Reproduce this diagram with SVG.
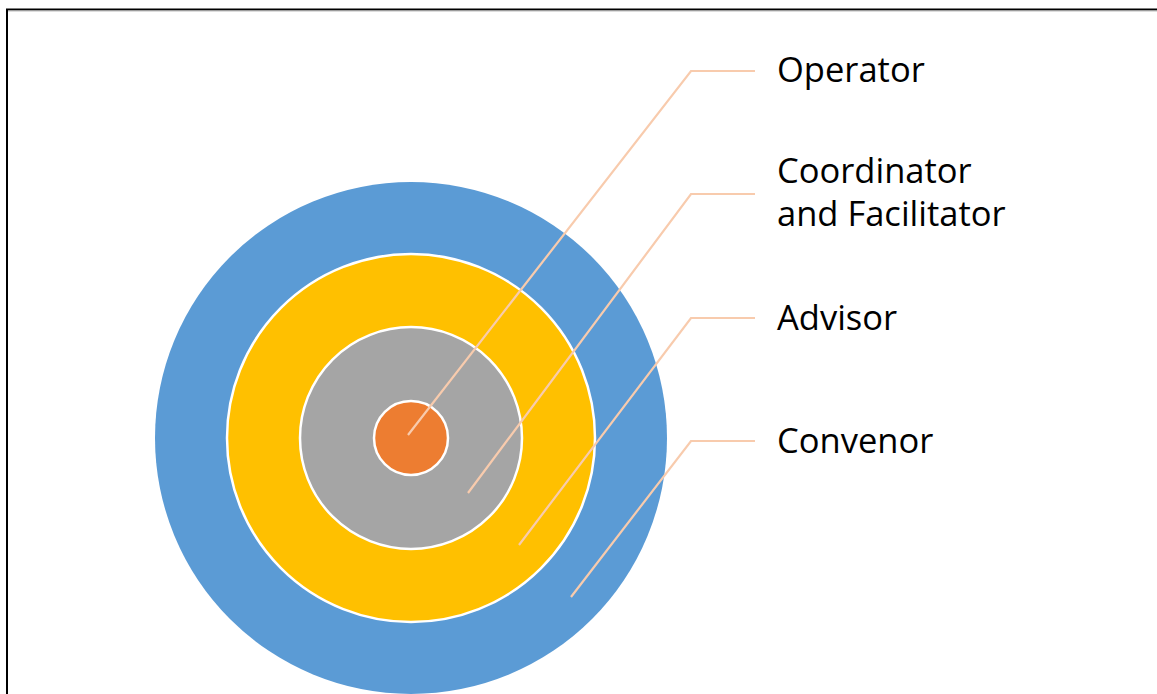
<svg xmlns="http://www.w3.org/2000/svg" width="1157" height="694" viewBox="0 0 1157 694">
  <style>
    .ring { stroke: #FFFFFF; stroke-width: 2.5; }
    .leader { fill: none; stroke: #F8CBAD; stroke-width: 2.2; stroke-linejoin: miter; }
    .label { font-family: "Open Sans", "Noto Sans", "Liberation Sans", sans-serif; font-size: 34.5px; fill: #000000; }
  </style>
  <rect x="0" y="0" width="1157" height="694" fill="#FFFFFF"/>

  <!-- frame -->
  <g id="frame">
    <line x1="6" y1="9.5" x2="1157" y2="9.5" stroke="#000000" stroke-width="2"/>
    <line x1="8" y1="11" x2="1157" y2="11" stroke="#BBBBBB" stroke-width="1"/>
    <line x1="7" y1="9" x2="7" y2="694" stroke="#000000" stroke-width="2"/>
  </g>

  <!-- concentric rings -->
  <g id="convenor-ring"><circle cx="411" cy="438" r="256" fill="#5B9BD5"/></g>
  <g id="coordinator-ring"><circle class="ring" cx="411" cy="438" r="184" fill="#FFC000"/></g>
  <g id="advisor-ring"><circle class="ring" cx="411" cy="438" r="111" fill="#A5A5A5"/></g>
  <g id="operator-core"><circle class="ring" cx="411" cy="438" r="37" fill="#ED7D31"/></g>

  <!-- leader lines -->
  <g id="connectors">
    <polyline class="leader" points="408,435 691,71 755,71"/>
    <polyline class="leader" points="468,493 691,194 755,194"/>
    <polyline class="leader" points="519,545 691,318 755,318"/>
    <polyline class="leader" points="571,597 691,441 755,441"/>
  </g>

  <!-- labels -->
  <g id="label-operator"><text class="label" x="777" y="82">Operator</text></g>
  <g id="label-coordinator">
    <text class="label" x="777" y="183">Coordinator</text>
    <text class="label" x="777" y="226">and Facilitator</text>
  </g>
  <g id="label-advisor"><text class="label" x="777" y="330">Advisor</text></g>
  <g id="label-convenor"><text class="label" x="777" y="453">Convenor</text></g>
</svg>
